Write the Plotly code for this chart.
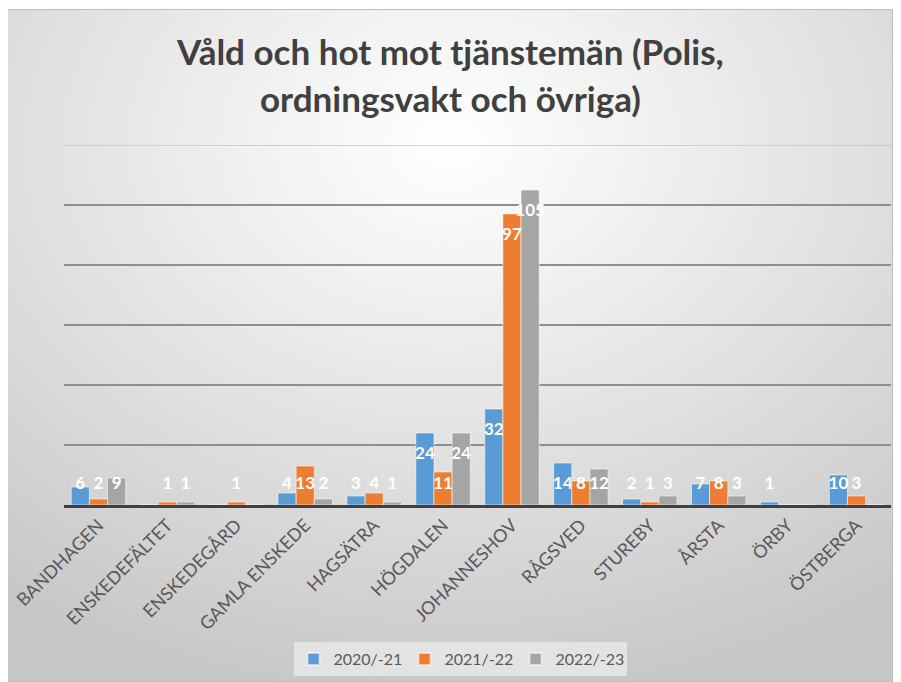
import base64
import plotly.graph_objects as go

categories = ["BANDHAGEN", "ENSKEDEFÄLTET", "ENSKEDEGÅRD", "GAMLA ENSKEDE", "HAGSÄTRA",
              "HÖGDALEN", "JOHANNESHOV", "RÅGSVED", "STUREBY", "ÅRSTA", "ÖRBY", "ÖSTBERGA"]
series_names = ["2020/-21", "2021/-22", "2022/-23"]
v2020 = [6, 0, 0, 4, 3, 24, 32, 14, 2, 7, 1, 10]
v2021 = [2, 1, 1, 13, 4, 11, 97, 8, 1, 8, 0, 3]
v2022 = [9, 1, 0, 2, 1, 24, 105, 12, 3, 3, 0, 0]
colors = ["#5B9BD5", "#ED7D31", "#A5A5A5"]

W, H = 901, 682
OFF = 8  # page body margin offset (screen -> figure)
# plot area in screen pixels
SX0, SX1, SY0, SY1 = 64, 891, 145, 505
L = SX0 - OFF
R = W - (SX1 - OFF)
T = SY0 - OFF
B = H - (SY1 - OFF)
PW, PH = SX1 - SX0, SY1 - SY0
YMAX = 120
DTICK = 20
BARGAP = 0.21

def px_x(p):
    return (p - SX0) / PW

def px_y(p):
    return (SY1 - p) / PH

svg = (
    "<svg xmlns='http://www.w3.org/2000/svg' width='887' height='673' preserveAspectRatio='none'>"
    "<defs><radialGradient id='g' cx='50%' cy='20%' r='85%'>"
    "<stop offset='0' stop-color='#ffffff'/>"
    "<stop offset='0.35' stop-color='#ececec'/>"
    "<stop offset='1' stop-color='#c6c6c6'/>"
    "</radialGradient></defs>"
    "<rect x='0.5' y='0.5' width='886' height='672' fill='url(#g)' stroke='#bdbdbd' stroke-width='1'/>"
    "</svg>"
)
bg_uri = "data:image/svg+xml;base64," + base64.b64encode(svg.encode()).decode()

xs = list(range(len(categories)))
fig = go.Figure()
allv = [v2020, v2021, v2022]
for name, vals, col in zip(series_names, allv, colors):
    fig.add_trace(go.Bar(
        x=xs, y=vals, name=name,
        marker=dict(color=col, line=dict(color="rgba(255,255,255,0.55)", width=1)),
    ))

w = (1 - BARGAP) / 3
for k, vals in enumerate(allv):
    lx, ly, lt = [], [], []
    for i, v in enumerate(vals):
        if v:
            lx.append(i + (k - 1) * w)
            ly.append(max(v - 7.3, 6.6))
            lt.append(str(v))
    fig.add_trace(go.Scatter(
        x=lx, y=ly, text=lt, mode="text", showlegend=False, hoverinfo="skip",
        textposition="middle center",
        textfont=dict(family="Lato", size=17, color="white", weight="bold"),
    ))

fig.update_layout(
    width=W, height=H,
    margin=dict(l=L, r=R, t=T, b=B, autoexpand=False),
    paper_bgcolor="white", plot_bgcolor="rgba(0,0,0,0)",
    barmode="group", bargap=BARGAP, bargroupgap=0.0,
    font=dict(family="Lato", color="#595959"),
    showlegend=True,
    legend=dict(orientation="h", x=px_x(460), xanchor="center", y=px_y(659), yanchor="middle",
                bgcolor="#e3e3e3", font=dict(size=16, color="#595959"),
                entrywidth=66, entrywidthmode="pixels",
                itemsizing="constant", traceorder="normal"),
    images=[dict(source=bg_uri, xref="paper", yref="paper", x=px_x(6), y=px_y(9),
                 sizex=887 / PW, sizey=673 / PH, sizing="stretch", layer="below",
                 xanchor="left", yanchor="top")],
    shapes=[dict(type="line", xref="paper", yref="y", x0=0, x1=1, y0=YMAX, y1=YMAX,
                 line=dict(color="#c4c4c4", width=1.5), layer="below")],
    annotations=[
        dict(text="<b>Våld och hot mot tjänstemän (Polis,</b>", xref="paper", yref="paper",
             x=px_x(450), y=px_y(51), xanchor="center", yanchor="middle", showarrow=False,
             font=dict(family="Lato", size=35, color="#404040")),
        dict(text="<b>ordningsvakt och övriga)</b>", xref="paper", yref="paper",
             x=px_x(450), y=px_y(98), xanchor="center", yanchor="middle", showarrow=False,
             font=dict(family="Lato", size=35, color="#404040")),
    ],
    xaxis=dict(range=[-0.5, len(categories) - 0.5], tickvals=xs, ticktext=categories,
               tickangle=-45, showgrid=False, zeroline=False, ticks="",
               showline=True, linecolor="#404040", linewidth=2.5, layer="above traces",
               ticklabeloverflow="allow",
               tickfont=dict(size=18, color="#595959"), fixedrange=True),
    yaxis=dict(range=[0, YMAX], tick0=0, dtick=DTICK, showticklabels=False, showgrid=True,
               gridcolor="#8f8f8f", gridwidth=1.5, zeroline=False, fixedrange=True),
)

fig.write_html("out.html")
